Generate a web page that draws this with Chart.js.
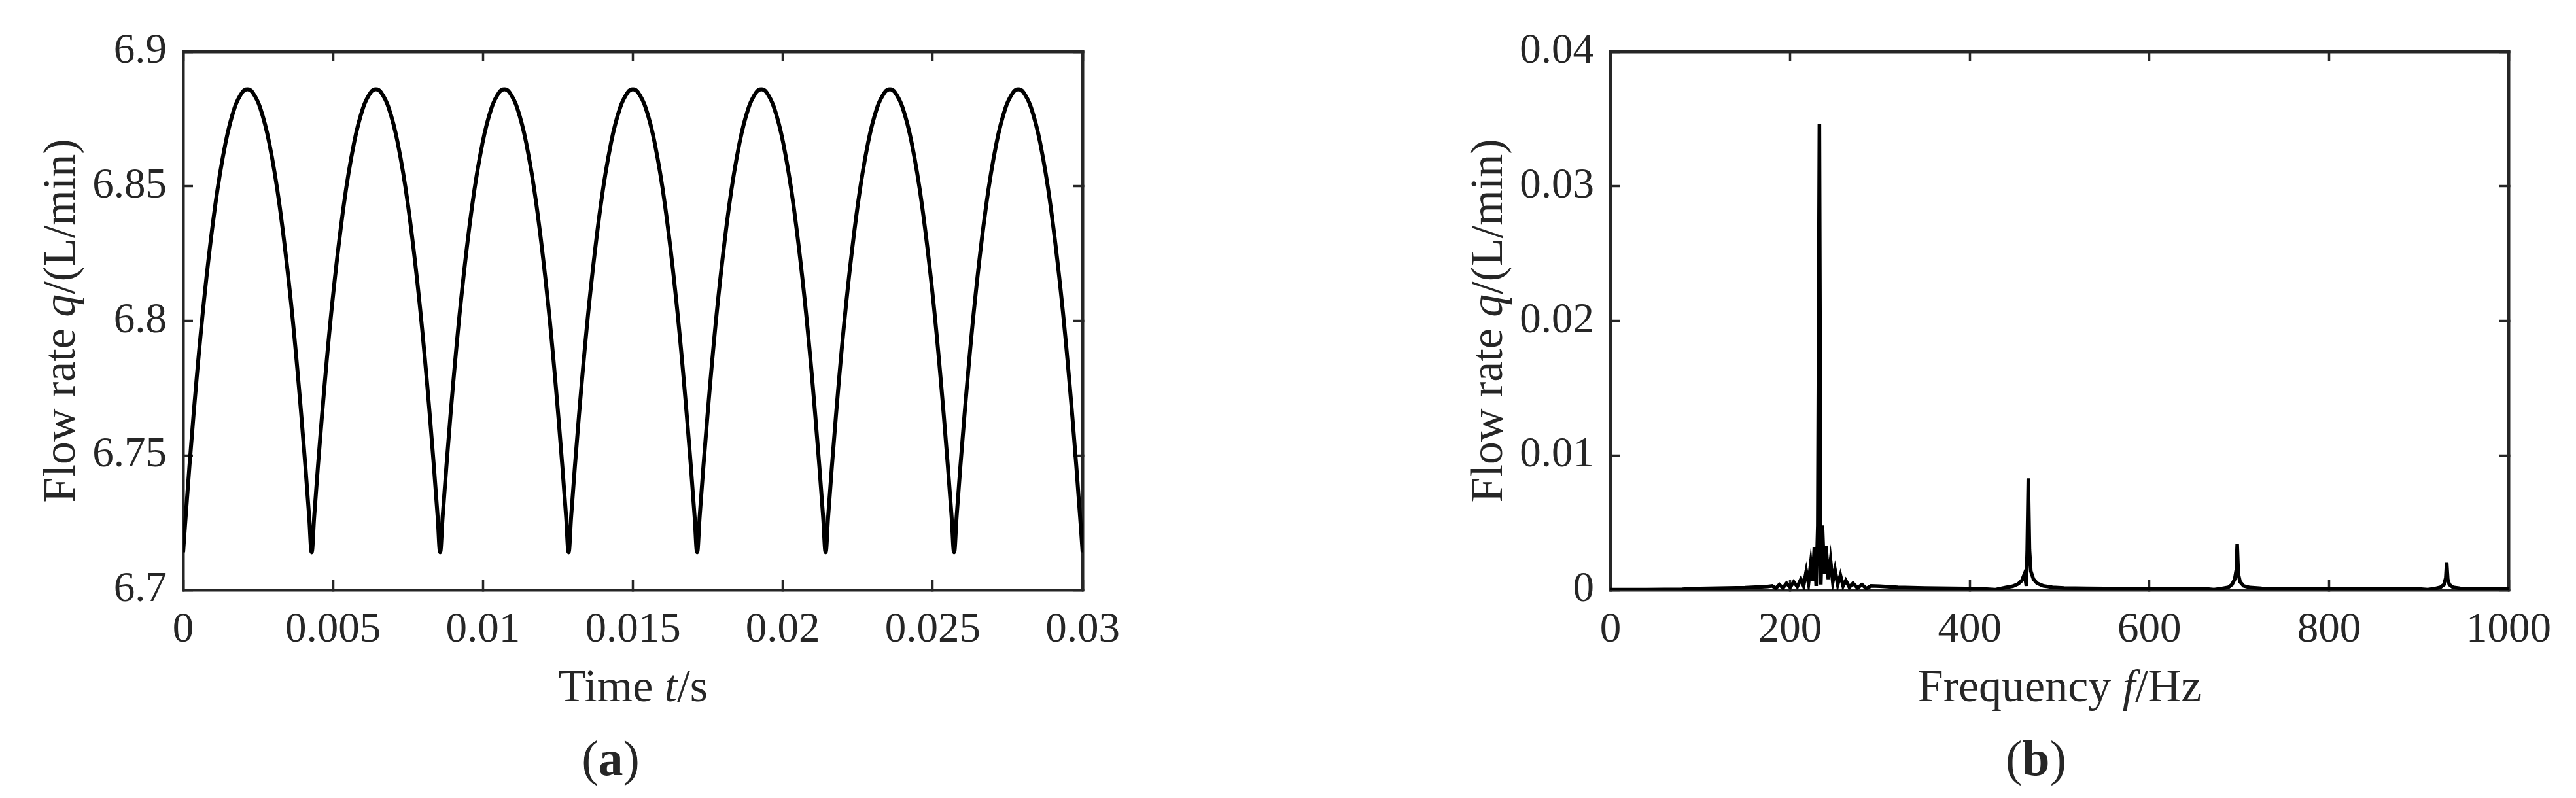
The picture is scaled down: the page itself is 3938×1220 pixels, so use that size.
<!DOCTYPE html>
<html>
<head>
<meta charset="utf-8">
<title>Flow rate ripple and spectrum</title>
<script src="https://cdn.jsdelivr.net/npm/chart.js@4.4.1/dist/chart.umd.min.js"></script>
<style>
  html, body { margin: 0; padding: 0; background: #fff; }
  #page { position: relative; width: 3938px; height: 1220px; }
  .panel { position: absolute; top: 0; width: 1969px; height: 1220px; }
</style>
</head>
<body>
<div id="page">
  <div class="panel" style="left:0"><canvas id="timeChart" width="1969" height="1220"></canvas></div>
  <div class="panel" style="left:1969px"><canvas id="freqChart" width="1969" height="1220"></canvas></div>
</div>
<script>
// ---- data ----

// (a) flow rate against time (7 ripple periods, cusps at the minima)
const timeValues = [
    0, 0.000086, 0.000343, 0.000686, 0.001071, 0.001414, 0.001714, 0.001971, 0.002143, 0.002314, 0.002571, 0.002871, 0.003214, 0.0036, 0.003943, 0.0042,
    0.004286, 0.004372, 0.004629, 0.004972, 0.005357, 0.0057, 0.006, 0.006257, 0.006429, 0.0066, 0.006857, 0.007157, 0.0075, 0.007886, 0.008229, 0.008486,
    0.008571, 0.008657, 0.008914, 0.009257, 0.009642, 0.009985, 0.010285, 0.010542, 0.010714, 0.010885, 0.011142, 0.011442, 0.011785, 0.012171, 0.012514, 0.012771,
    0.012857, 0.012943, 0.0132, 0.013543, 0.013928, 0.014271, 0.014571, 0.014828, 0.015, 0.015171, 0.015428, 0.015728, 0.016071, 0.016457, 0.0168, 0.017057,
    0.017143, 0.017229, 0.017486, 0.017829, 0.018214, 0.018557, 0.018857, 0.019114, 0.019286, 0.019457, 0.019714, 0.020014, 0.020357, 0.020743, 0.021086, 0.021343,
    0.021429, 0.021515, 0.021772, 0.022115, 0.0225, 0.022843, 0.023143, 0.0234, 0.023572, 0.023743, 0.024, 0.0243, 0.024643, 0.025029, 0.025372, 0.025629,
    0.025714, 0.0258, 0.026057, 0.0264, 0.026785, 0.027128, 0.027428, 0.027685, 0.027857, 0.028028, 0.028285, 0.028585, 0.028928, 0.029314, 0.029657, 0.029914,
    0.03
];
const flowValues = [
    6.714, 6.7275, 6.7646, 6.8065, 6.843, 6.8661, 6.8791, 6.8849, 6.886, 6.8849, 6.8791, 6.8661, 6.843, 6.8065, 6.7646, 6.7275,
    6.714, 6.7275, 6.7646, 6.8065, 6.843, 6.8661, 6.8791, 6.8849, 6.886, 6.8849, 6.8791, 6.8661, 6.843, 6.8065, 6.7646, 6.7275,
    6.714, 6.7275, 6.7646, 6.8065, 6.843, 6.8661, 6.8791, 6.8849, 6.886, 6.8849, 6.8791, 6.8661, 6.843, 6.8065, 6.7646, 6.7275,
    6.714, 6.7275, 6.7646, 6.8065, 6.843, 6.8661, 6.8791, 6.8849, 6.886, 6.8849, 6.8791, 6.8661, 6.843, 6.8065, 6.7646, 6.7275,
    6.714, 6.7275, 6.7646, 6.8065, 6.843, 6.8661, 6.8791, 6.8849, 6.886, 6.8849, 6.8791, 6.8661, 6.843, 6.8065, 6.7646, 6.7275,
    6.714, 6.7275, 6.7646, 6.8065, 6.843, 6.8661, 6.8791, 6.8849, 6.886, 6.8849, 6.8791, 6.8661, 6.843, 6.8065, 6.7646, 6.7275,
    6.714, 6.7275, 6.7646, 6.8065, 6.843, 6.8661, 6.8791, 6.8849, 6.886, 6.8849, 6.8791, 6.8661, 6.843, 6.8065, 6.7646, 6.7275,
    6.714
];
const timeTicks = [0, 0.005, 0.01, 0.015, 0.02, 0.025, 0.03];
const timeTickLabels = ['0', '0.005', '0.01', '0.015', '0.02', '0.025', '0.03'];
const flowTicks = [6.7, 6.75, 6.8, 6.85, 6.9];
const flowTickLabels = ['6.7', '6.75', '6.8', '6.85', '6.9'];

// (b) amplitude spectrum
const freqValues = [
    0, 20, 40, 60, 80, 90, 110, 130, 150, 165, 175,
    180, 184, 188, 192, 196, 200, 204, 208, 212, 215, 218, 220.5, 223, 225, 227, 229, 230.8,
    232.6,
    234.2, 236, 238, 240, 242.5, 245, 247.5, 250, 253, 256, 259, 262, 266, 270, 275, 280, 285, 290,
    300, 320, 350, 380, 410, 428, 440, 448, 454, 458, 461, 463, 464, 465.2, 466.5, 468, 471, 475, 482, 492, 505,
    530, 570, 610, 645, 660, 672, 680, 688, 692, 695, 696.8, 697.8, 699, 701, 705, 712, 725, 745, 780, 820,
    860, 895, 910, 918, 924, 928, 930, 931, 932.2, 934, 938, 946, 960, 980, 1000
];
const ampValues = [
    0.00003, 0.00003, 0.00003, 0.00004, 0.00005, 0.0001, 0.00012, 0.00014, 0.00017, 0.00022, 0.00026,
    0.0003, 0.00012, 0.0004, 0.00015, 0.0005, 0.0002, 0.0006, 0.00025, 0.0008, 0.0003, 0.0014, 0.0005, 0.002, 0.0007, 0.0032, 0.0003, 0.0048,
    0.0346,
    0.0004, 0.0048, 0.0012, 0.0033, 0.0008, 0.0022, 0.0006, 0.0015, 0.0004, 0.0011, 0.0003, 0.0007, 0.0002, 0.0005, 0.00015, 0.0004, 0.0001, 0.0003,
    0.00028, 0.0002, 0.00015, 0.00012, 0.0001, 0.00002, 0.00018, 0.00028, 0.00045, 0.0007, 0.0012, 0.0003, 0.003, 0.0083, 0.003, 0.0014, 0.0008, 0.0005, 0.0003, 0.0002, 0.00015,
    0.00012, 0.0001, 0.0001, 0.0001, 0.0001, 0.00002, 0.0001, 0.0002, 0.0004, 0.0008, 0.0015, 0.0034, 0.0012, 0.0006, 0.0003, 0.00018, 0.00012, 0.0001, 0.0001, 0.0001,
    0.0001, 0.0001, 0.00002, 0.0001, 0.0002, 0.0004, 0.0009, 0.00206, 0.0008, 0.0004, 0.0002, 0.00012, 0.0001, 0.0001, 0.0001
];
const freqTicks = [0, 200, 400, 600, 800, 1000];
const freqTickLabels = ['0', '200', '400', '600', '800', '1000'];
const ampTicks = [0, 0.01, 0.02, 0.03, 0.04];
const ampTickLabels = ['0', '0.01', '0.02', '0.03', '0.04'];

// ---- styling ----
const serif = "'Liberation Serif', 'Times New Roman', serif";
const axisColor = '#262626';
Chart.defaults.font.family = serif;
Chart.defaults.color = axisColor;

// titles made of several runs (italic symbols, bold caption letters)
function makeTitles(items) {
    return {
        id: 'richTitles',
        afterDraw(chart) {
            const { ctx, chartArea } = chart;
            const midX = (chartArea.left + chartArea.right) / 2;
            const midY = (chartArea.top + chartArea.bottom) / 2;
            items.forEach(item => {
                ctx.save();
                ctx.fillStyle = axisColor;
                ctx.textAlign = 'left';
                ctx.textBaseline = 'alphabetic';
                if (item.side === 'left') {
                    ctx.translate(chartArea.left - item.offset, midY);
                    ctx.rotate(-Math.PI / 2);
                } else {
                    ctx.translate(midX + item.shift, chartArea.bottom + item.offset);
                }
                const fontOf = run => (run.italic ? 'italic ' : 'normal ') + (run.bold ? 'bold ' : 'normal ') + item.size + 'px ' + serif;
                let total = 0;
                item.runs.forEach(run => { ctx.font = fontOf(run); total += ctx.measureText(run.text).width; });
                let x = -total / 2;
                item.runs.forEach(run => {
                    ctx.font = fontOf(run);
                    ctx.fillText(run.text, x, 0);
                    x += ctx.measureText(run.text).width;
                });
                ctx.restore();
            });
        }
    };
}

// boxed axes with inward ticks on all four sides
function frameScales(xRange, xTicks, xLabels, yRange, yTicks, yLabels, yWidth) {
    const grid = { drawOnChartArea: false, drawTicks: true, tickLength: -15, tickWidth: 3.5, tickColor: axisColor };
    const border = { display: true, color: axisColor, width: 4.5 };
    const tickFont = { size: 65 };
    const useTicks = values => scale => { scale.ticks = values.map(v => ({ value: v })); };
    return {
        x: {
            type: 'linear', position: 'bottom', min: xRange[0], max: xRange[1],
            afterBuildTicks: useTicks(xTicks),
            afterFit: s => { s.height = 120; },
            grid, border,
            ticks: { autoSkip: false, maxRotation: 0, padding: 38, font: tickFont, color: axisColor, callback: (v, i) => xLabels[i] }
        },
        xTop: {
            type: 'linear', position: 'top', min: xRange[0], max: xRange[1],
            afterBuildTicks: useTicks(xTicks),
            afterFit: s => { s.height = 0; },
            grid, border, ticks: { display: false }
        },
        y: {
            type: 'linear', position: 'left', min: yRange[0], max: yRange[1],
            afterBuildTicks: useTicks(yTicks),
            afterFit: s => { s.width = yWidth; },
            grid, border,
            ticks: { autoSkip: false, padding: 40, font: tickFont, color: axisColor, callback: (v, i) => yLabels[i] }
        },
        yRight: {
            type: 'linear', position: 'right', min: yRange[0], max: yRange[1],
            afterBuildTicks: useTicks(yTicks),
            afterFit: s => { s.width = 0; },
            grid, border, ticks: { display: false }
        }
    };
}

const baseOptions = {
    responsive: false,
    devicePixelRatio: 1,
    animation: false,
    events: [],
    elements: { point: { radius: 0 } }
};

// (a) Time domain
new Chart(document.getElementById('timeChart'), {
    type: 'line',
    data: {
        datasets: [{
            data: timeValues.map((t, i) => ({ x: t, y: flowValues[i] })),
            borderColor: '#000',
            borderWidth: 6,
            tension: 0.4,
            fill: false
        }]
    },
    options: {
        ...baseOptions,
        layout: { padding: { left: 0, top: 68, right: 314, bottom: 198 } },
        scales: frameScales([0, 0.03], timeTicks, timeTickLabels, [6.7, 6.9], flowTicks, flowTickLabels, 280),
        plugins: { legend: { display: false }, tooltip: { enabled: false } }
    },
    plugins: [makeTitles([
        { side: 'bottom', offset: 170, shift: 0, size: 70, runs: [{ text: 'Time ' }, { text: 't', italic: true }, { text: '/s' }] },
        { side: 'left', offset: 166, size: 70, runs: [{ text: 'Flow rate ' }, { text: 'q', italic: true }, { text: '/(L/min)' }] },
        { side: 'bottom', offset: 283, shift: -34, size: 76, runs: [{ text: '(' }, { text: 'a', bold: true }, { text: ')' }] }
    ])]
});

// (b) Frequency domain
new Chart(document.getElementById('freqChart'), {
    type: 'line',
    data: {
        datasets: [{
            data: freqValues.map((f, i) => ({ x: f, y: ampValues[i] })),
            borderColor: '#000',
            borderWidth: 5.5,
            tension: 0,
            fill: false
        }]
    },
    options: {
        ...baseOptions,
        layout: { padding: { left: 0, top: 68, right: 100, bottom: 198 } },
        scales: frameScales([0, 1000], freqTicks, freqTickLabels, [0, 0.04], ampTicks, ampTickLabels, 493),
        plugins: { legend: { display: false }, tooltip: { enabled: false } }
    },
    plugins: [makeTitles([
        { side: 'bottom', offset: 170, shift: 0, size: 70, runs: [{ text: 'Frequency ' }, { text: 'f', italic: true }, { text: '/Hz' }] },
        { side: 'left', offset: 166, size: 70, runs: [{ text: 'Flow rate ' }, { text: 'q', italic: true }, { text: '/(L/min)' }] },
        { side: 'bottom', offset: 283, shift: -36, size: 76, runs: [{ text: '(' }, { text: 'b', bold: true }, { text: ')' }] }
    ])]
});
</script>
</body>
</html>
